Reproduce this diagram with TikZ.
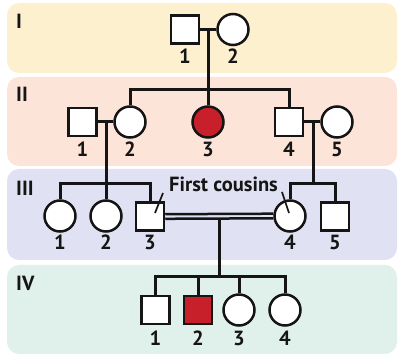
\documentclass[tikz,border=0pt]{standalone}
\usepackage{fontspec}
\setmainfont{PT Sans}
\definecolor{bandone}{HTML}{FDF0CF}
\definecolor{bandtwo}{HTML}{FCE4D8}
\definecolor{bandthree}{HTML}{E0E1F2}
\definecolor{bandfour}{HTML}{E0F1EC}
\definecolor{affred}{HTML}{C8202A}
\definecolor{ink}{HTML}{151515}
\begin{document}
\begin{tikzpicture}[x=1pt,y=-1pt,
  band/.style={rounded corners=12pt},
  male/.style={draw=ink,line width=2.5pt,fill=white,rectangle,minimum size=28pt,inner sep=0pt},
  female/.style={draw=ink,line width=2.5pt,fill=white,circle,minimum size=31pt,inner sep=0pt},
  aff/.style={fill=affred},
  conn/.style={draw=ink,line width=3pt},
  dbl/.style={draw=ink,line width=2.5pt},
  ptr/.style={draw=ink,line width=1.7pt},
  num/.style={font=\fontsize{20.5}{22}\selectfont\bfseries,text=ink,inner sep=0pt},
  gen/.style={font=\fontsize{20.5}{22}\selectfont\bfseries,text=ink,inner sep=0pt,anchor=west}]
\useasboundingbox (0,0) rectangle (400,355);
% bands
\fill[bandone,band] (7,3) rectangle (397,73);
\fill[bandtwo,band] (7,77) rectangle (397,166);
\fill[bandthree,band] (7,169) rectangle (397,260);
\fill[bandfour,band] (7,265) rectangle (397,354);
% generation labels
\node[gen] (gI) at (16,21) {I};
\node[gen] (gII) at (16,94) {II};
\node[gen] (gIII) at (16,188) {III};
\node[gen] (gIV) at (16,283) {IV};
% generation I
\node[male] (I1) at (185,29.5) {};
\node[female] (I2) at (233,29.5) {};
% generation II
\node[male] (II1) at (82.5,122) {};
\node[female] (II2) at (130,122) {};
\node[female,aff] (II3) at (208,122) {};
\node[male] (II4) at (289,122) {};
\node[female] (II5) at (337,122) {};
% generation III
\node[female] (III1) at (60,216) {};
\node[female] (III2) at (106,216) {};
\node[male] (III3) at (150,216.5) {};
\node[female] (III4) at (290,216) {};
\node[male] (III5) at (335,216.5) {};
% generation IV
\node[male] (IV1) at (155.5,310) {};
\node[male,aff] (IV2) at (198,310) {};
\node[female] (IV3) at (239,310) {};
\node[female] (IV4) at (285,310) {};
% coordinates
\coordinate (m1) at (208,29.5);
\coordinate (s2) at (208,90);
\coordinate (m2) at (106,122);
\coordinate (s3) at (106,184);
\coordinate (m3) at (313,122);
\coordinate (s4) at (313,184);
\coordinate (m4) at (219,218.25);
\coordinate (s5) at (219,277);
% connectors
\draw[conn] (I1) -- (I2);
\draw[conn] (m1) -- (s2);
\draw[conn] (II2) |- (s2) -| (II4);
\draw[conn] (s2) -- (II3);
\draw[conn] (II1) -- (II2);
\draw[conn] (II4) -- (II5);
\draw[conn] (m2) -- (s3);
\draw[conn] (m3) -- (s4);
\draw[conn] (III1) |- (s3) -| (III3);
\draw[conn] (s3) -- (III2);
\draw[conn] (III4) |- (s4) -| (III5);
\draw[dbl] ([yshift=2.3pt]III3.east) -- ([yshift=2.3pt]III4.west);
\draw[dbl] ([yshift=-2.3pt]III3.east) -- ([yshift=-2.3pt]III4.west);
\draw[conn] (m4) -- (s5);
\draw[conn] (IV1) |- (s5) -| (IV4);
\draw[conn] (IV2) |- (s5);
\draw[conn] (IV3) |- (s5);
% numbers
\node[num] (nI1) at (185,56) {1};
\node[num] (nI2) at (233,56) {2};
\node[num] (nII1) at (82.5,149) {1};
\node[num] (nII2) at (130,149) {2};
\node[num] (nII3) at (208,149) {3};
\node[num] (nII4) at (289,149) {4};
\node[num] (nII5) at (337,149) {5};
\node[num] (nIII1) at (60,242.5) {1};
\node[num] (nIII2) at (106,242.5) {2};
\node[num] (nIII3) at (150,242.5) {3};
\node[num] (nIII4) at (290,242.5) {4};
\node[num] (nIII5) at (335,242.5) {5};
\node[num] (nIV1) at (155.5,338.5) {1};
\node[num] (nIV2) at (198,338.5) {2};
\node[num] (nIV3) at (239,338.5) {3};
\node[num] (nIV4) at (285,338.5) {4};
% first cousins
\node[num] (fc) at (223.5,184) {First cousins};
\coordinate (pa) at (163,193);
\coordinate (pb) at (155,213);
\coordinate (pc) at (282,192);
\coordinate (pd) at (289,213);
\draw[ptr] (pa) -- (pb);
\draw[ptr] (pc) -- (pd);
\end{tikzpicture}
\end{document}
